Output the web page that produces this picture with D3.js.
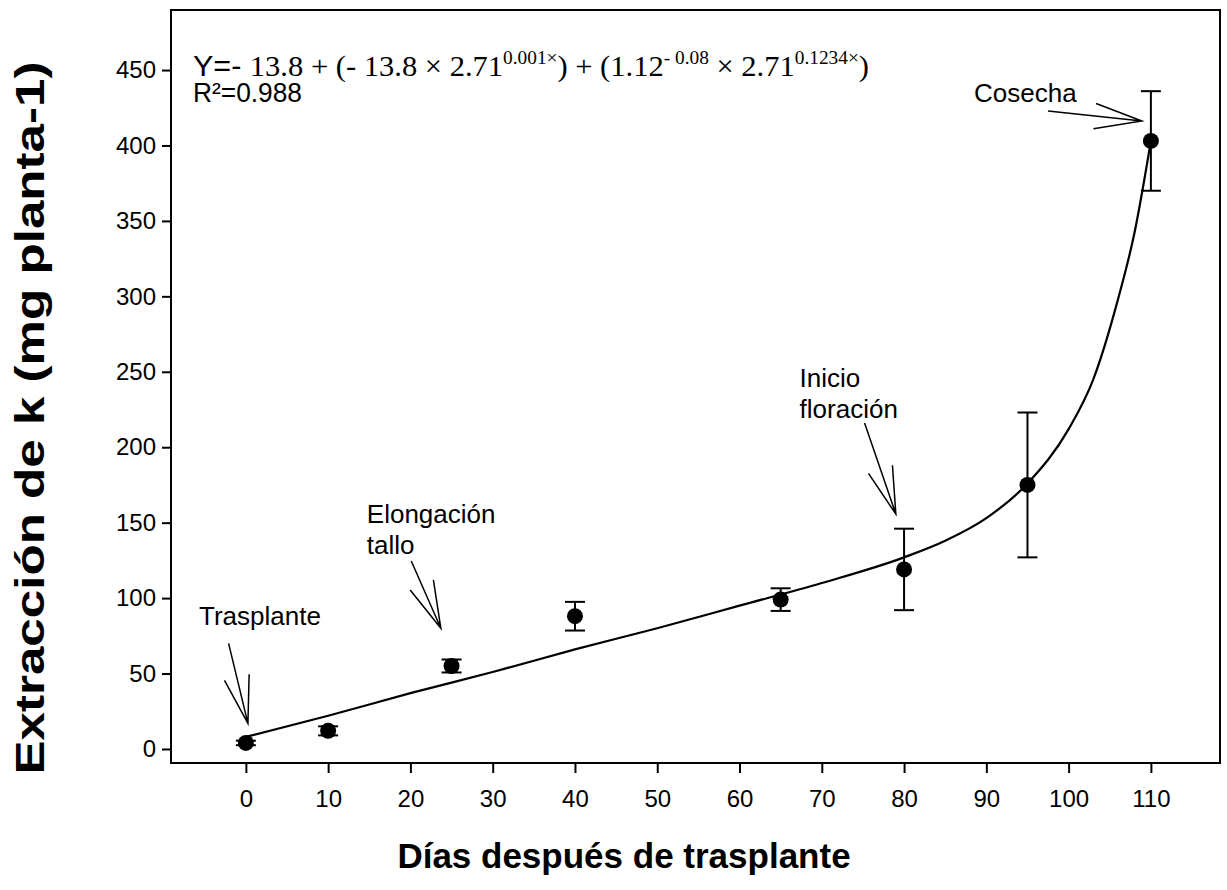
<!DOCTYPE html>
<meta charset="utf-8">
<html>
  <head>
    <title>Extracción de k</title>
    <style>
      body { margin: 0; background: white; }
      .frame { fill: none; stroke: black; stroke-width: 2px; }
      .fit { fill: none; stroke: black; stroke-width: 2.2px; }
      .err { stroke: black; stroke-width: 2px; }
      .arrow { stroke: black; stroke-width: 1.5px; fill: none; }
      .tick text { font-family: "Liberation Sans", Arial, sans-serif; font-size: 24px; fill: black; }
      .tick line { stroke: black; stroke-width: 2px; }
      .domain { display: none; }
      .note { font-family: "Liberation Sans", Arial, sans-serif; font-size: 26px; fill: black; }
      .title { font-family: "Liberation Sans", Arial, sans-serif; font-weight: bold; fill: black; }
    </style>
  </head>
  <body>
    <script src="https://d3js.org/d3.v7.min.js"></script>
    <script>

      // measured points (days after transplant, mg per plant) and error half-widths
      var days = [0, 10, 25, 40, 65, 80, 95, 110];
      var extraction = [4, 12, 55, 88, 99, 119, 175, 403];
      var errors = [1.5, 3, 4.3, 9.5, 7.5, 27, 48, 33];

      // fitted curve
      var fitDays = [0, 10, 20, 30, 40, 50, 60, 70, 80, 85, 90, 95, 100, 103, 106, 108, 110];
      var fitValues = [8, 22, 37, 51, 66, 80, 95, 110, 127, 138, 153, 176, 212, 245, 298, 342, 403];

      var xTicks = [0, 10, 20, 30, 40, 50, 60, 70, 80, 90, 100, 110];
      var yTicks = [0, 50, 100, 150, 200, 250, 300, 350, 400, 450];

      // annotations: label lines, label anchor, arrow start and tip (data units)
      var noteLabels = [["Trasplante"], ["Elongación", "tallo"], ["Inicio", "floración"], ["Cosecha"]];
      var noteAnchor = [[-5.7, 82], [14.7, 150], [67.3, 240], [88.5, 429]];
      var arrowFrom = [[-2.1, 70], [20.1, 124.6], [75.2, 216], [97.5, 422.8]];
      var arrowTo = [[0.25, 17], [23.7, 80], [79, 155.7], [108.9, 416.2]];

      var width = 1227, height = 890;
      var margin = {left: 171, right: 1220, top: 10, bottom: 763};

      var x = d3.scaleLinear().domain([-9.1, 118.4]).range([margin.left, margin.right]);
      var y = d3.scaleLinear().domain([-9.3, 489.8]).range([margin.bottom, margin.top]);

      var svg = d3.select("body").append("svg")
          .attr("width", width)
          .attr("height", height);

      svg.append("g")
          .attr("transform", "translate(0," + margin.bottom + ")")
          .call(d3.axisBottom(x).tickValues(xTicks).tickSize(10).tickPadding(17));

      svg.append("g")
          .attr("transform", "translate(" + margin.left + ",0)")
          .call(d3.axisLeft(y).tickValues(yTicks).tickSize(9).tickPadding(6));

      svg.append("rect")
          .attr("class", "frame")
          .attr("x", margin.left)
          .attr("y", margin.top)
          .attr("width", margin.right - margin.left)
          .attr("height", margin.bottom - margin.top);

      var line = d3.line()
          .x(function(d, i) { return x(fitDays[i]); })
          .y(function(d) { return y(d); })
          .curve(d3.curveMonotoneX);

      svg.append("path")
          .datum(fitValues)
          .attr("class", "fit")
          .attr("d", line);

      // error bars
      var bars = svg.selectAll(".bar")
          .data(days)
        .enter().append("g")
          .attr("class", "bar");

      bars.append("line")
          .attr("class", "err")
          .attr("x1", function(d) { return x(d); })
          .attr("x2", function(d) { return x(d); })
          .attr("y1", function(d, i) { return y(extraction[i] - errors[i]); })
          .attr("y2", function(d, i) { return y(extraction[i] + errors[i]); });

      [-1, 1].forEach(function(s) {
        bars.append("line")
            .attr("class", "err")
            .attr("x1", function(d) { return x(d) - 10; })
            .attr("x2", function(d) { return x(d) + 10; })
            .attr("y1", function(d, i) { return y(extraction[i] + s * errors[i]); })
            .attr("y2", function(d, i) { return y(extraction[i] + s * errors[i]); });
      });

      bars.append("circle")
          .attr("r", 8)
          .attr("fill", "black")
          .attr("cx", function(d) { return x(d); })
          .attr("cy", function(d, i) { return y(extraction[i]); });

      // annotation arrows with long open heads
      noteLabels.forEach(function(lines, i) {
        var t = svg.append("text")
            .attr("class", "note")
            .attr("x", x(noteAnchor[i][0]))
            .attr("y", y(noteAnchor[i][1]));
        lines.forEach(function(s, j) {
          t.append("tspan")
              .attr("x", x(noteAnchor[i][0]))
              .attr("dy", j === 0 ? 0 : 31)
              .text(s);
        });

        var x0 = x(arrowFrom[i][0]), y0 = y(arrowFrom[i][1]);
        var x1 = x(arrowTo[i][0]), y1 = y(arrowTo[i][1]);
        var ang = Math.atan2(y0 - y1, x0 - x1);
        var spread = 15 * Math.PI / 180, len = 49;
        var p = d3.path();
        p.moveTo(x0, y0);
        p.lineTo(x1, y1);
        p.moveTo(x1 + len * Math.cos(ang - spread), y1 + len * Math.sin(ang - spread));
        p.lineTo(x1, y1);
        p.lineTo(x1 + len * Math.cos(ang + spread), y1 + len * Math.sin(ang + spread));
        svg.append("path")
            .attr("class", "arrow")
            .attr("d", p.toString());
      });

      // regression equation
      var sans = "'Liberation Sans', Arial, sans-serif";
      var serif = "'Liberation Serif', 'Times New Roman', serif";
      var eq = svg.append("text")
          .attr("x", 193)
          .attr("y", 76)
          .attr("font-size", 30)
          .attr("textLength", 676)
          .attr("lengthAdjust", "spacingAndGlyphs");
      eq.append("tspan").attr("font-family", sans).text("Y=- ");
      eq.append("tspan").attr("font-family", serif).text(" 13.8 + (- 13.8 × 2.71");
      eq.append("tspan").attr("font-family", serif).attr("font-size", 19).attr("dy", -12).text("0.001×");
      eq.append("tspan").attr("font-family", serif).attr("dy", 12).text(") + (1.12");
      eq.append("tspan").attr("font-family", serif).attr("font-size", 19).attr("dy", -12).text("- 0.08");
      eq.append("tspan").attr("font-family", serif).attr("dy", 12).text(" × 2.71");
      eq.append("tspan").attr("font-family", serif).attr("font-size", 19).attr("dy", -12).text("0.1234×");
      eq.append("tspan").attr("font-family", serif).attr("dy", 12).text(")");

      svg.append("text")
          .attr("x", 193)
          .attr("y", 102)
          .attr("font-family", sans)
          .attr("font-size", 27)
          .attr("textLength", 109)
          .attr("lengthAdjust", "spacingAndGlyphs")
          .text("R²=0.988");

      svg.append("text")
          .attr("class", "title")
          .attr("text-anchor", "middle")
          .attr("x", 624)
          .attr("y", 868)
          .style("font-size", "35px")
          .text("Días después de trasplante");

      svg.append("text")
          .attr("class", "title")
          .attr("text-anchor", "middle")
          .attr("transform", "translate(44,418) rotate(-90)")
          .attr("textLength", 713)
          .attr("lengthAdjust", "spacingAndGlyphs")
          .style("font-size", "40px")
          .text("Extracción de k (mg planta-1)");

    </script>
  </body>
</html>
